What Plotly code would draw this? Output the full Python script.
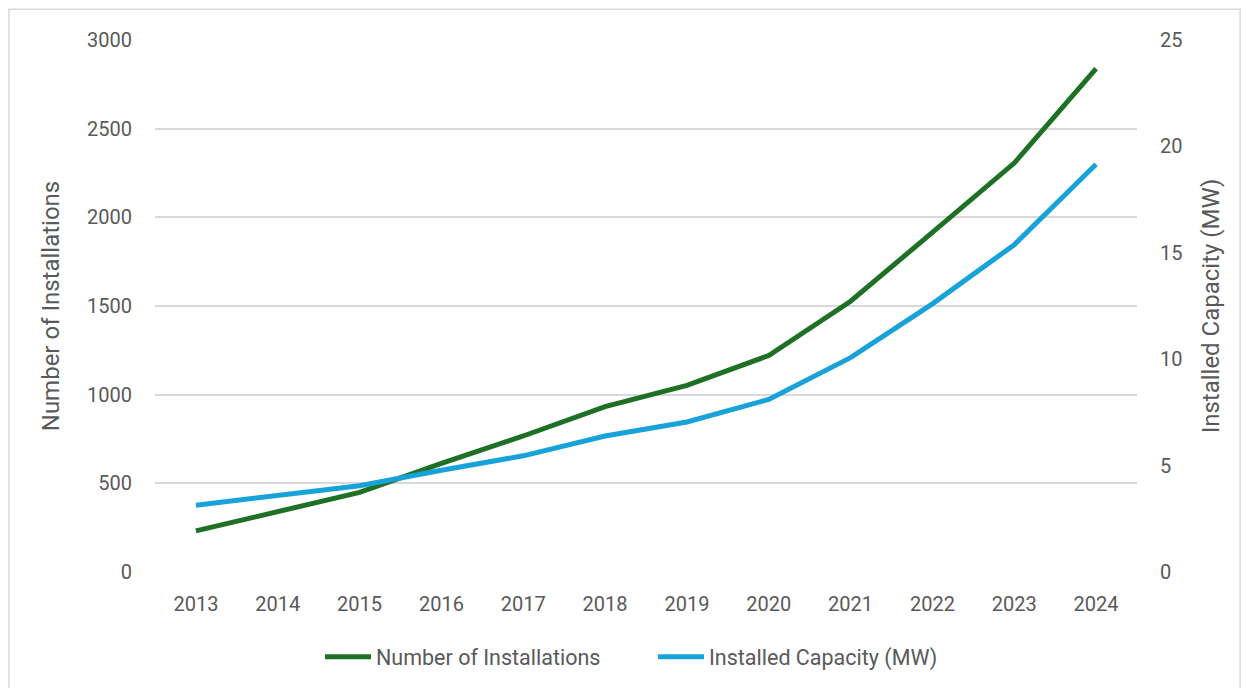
import plotly.graph_objects as go

years = ["2013", "2014", "2015", "2016", "2017", "2018",
         "2019", "2020", "2021", "2022", "2023", "2024"]
installations = [232, 339, 449, 613, 767, 933, 1052, 1221, 1527, 1915, 2306, 2838]
capacity_mw = [3.14, 3.60, 4.05, 4.78, 5.46, 6.39, 7.05, 8.11, 10.07, 12.6, 15.38, 19.16]

_GREEN = "#1E7025"
_BLUE = "#17A2DA"
_GRID = "#D9D9D9"
_TEXT = "#595959"
_NARROW = "Liberation Sans Narrow, Roboto, sans-serif"

fig = go.Figure()
fig.add_trace(go.Scatter(
    x=years, y=installations, name="Number of Installations",
    mode="lines", line=dict(color=_GREEN, width=5),
))
fig.add_trace(go.Scatter(
    x=years, y=capacity_mw, name="Installed Capacity (MW)",
    mode="lines", line=dict(color=_BLUE, width=5), yaxis="y2",
))

fig.update_layout(
    width=1242, height=688,
    margin=dict(l=155, r=105, t=40, b=115),
    paper_bgcolor="white", plot_bgcolor="white",
    font=dict(family="Roboto, Liberation Sans, sans-serif", size=20, color=_TEXT),
    showlegend=True,
    legend=dict(orientation="h", x=(320 - 155) / 982, xanchor="left", y=-0.157, yanchor="middle",
                font=dict(family=_NARROW, size=21.5, color=_TEXT),
                entrywidth=272, entrywidthmode="pixels",
                itemwidth=46, tracegroupgap=0),
    xaxis=dict(
        type="category", range=[-0.5, 11.5],
        showgrid=False, showline=False, zeroline=False,
        ticks="", ticklabelstandoff=18,
    ),
    yaxis=dict(
        range=[0, 3000], dtick=500, tick0=0,
        showgrid=True, gridcolor=_GRID, gridwidth=1.5,
        zeroline=False, showline=False, ticks="", ticklabelstandoff=22,
        title=dict(text="Number of Installations", standoff=20,
                   font=dict(family=_NARROW, size=24, color=_TEXT)),
    ),
    yaxis2=dict(
        range=[0, 25], dtick=5, tick0=0, overlaying="y", side="right",
        showgrid=False, zeroline=False, showline=False, ticks="", ticklabelstandoff=22,
        title=dict(text="Installed Capacity (MW)", standoff=20,
                   font=dict(family=_NARROW, size=24, color=_TEXT)),
    ),
)

# chart border (Excel-style outline)
fig.add_shape(type="rect", xref="paper", yref="paper",
              x0=-0.1487, x1=1.105, y0=-0.26, y1=1.058,
              line=dict(color="#D9D9D9", width=1.5), fillcolor="rgba(0,0,0,0)", layer="below")

fig.write_html("out.html", config={"displayModeBar": False},
               post_script="document.body.style.margin='0px';document.body.style.overflow='hidden';")
